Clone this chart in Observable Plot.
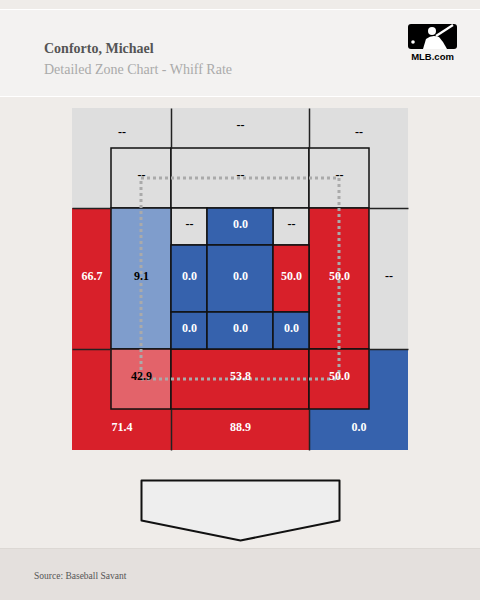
<!DOCTYPE html>
<html><head><meta charset="utf-8">
<script src="https://cdn.jsdelivr.net/npm/d3@7"></script>
<script src="https://cdn.jsdelivr.net/npm/@observablehq/plot@0.6"></script>
<style>
html,body{margin:0;padding:0;}
body{width:480px;height:600px;background:#efece9;position:relative;overflow:hidden;font-family:"Liberation Serif","Times New Roman",serif;}
#header{position:absolute;left:0;top:9px;width:480px;height:86px;background:#f3f2f1;border-top:1px solid #fff;border-bottom:1px solid #fff;}
#title{position:absolute;left:44px;top:41px;font-size:14px;line-height:16px;font-weight:bold;color:#555;white-space:nowrap;}
#subtitle{position:absolute;left:44px;top:62px;font-size:14px;line-height:16px;color:#aaa;white-space:nowrap;}
#logo{position:absolute;left:402px;top:20px;}
#chart{position:absolute;left:0;top:97px;}
#footer{position:absolute;left:0;top:548px;width:480px;height:51px;background:#e4e0dd;border-top:1px solid #dcd8d4;}
#source{position:absolute;left:34px;top:570px;font-size:9.5px;line-height:12px;color:#555;white-space:nowrap;}
</style>
</head>
<body>
<div id="header"></div>
<div id="title">Conforto, Michael</div>
<div id="subtitle">Detailed Zone Chart - Whiff Rate</div>
<svg id="logo" width="60" height="46">
  <rect x="6" y="4" width="49" height="25" rx="3" fill="#000"/>
  <circle cx="11" cy="22" r="1.8" fill="#fff"/>
  <circle cx="30" cy="11" r="4" fill="#fff"/>
  <path d="M21 29 L24 19 Q30 14 37 17 L41 22 L45 29 Z" fill="#fff"/>
  <line x1="34" y1="16" x2="51" y2="5" stroke="#fff" stroke-width="2.2"/>
  <text x="30.5" y="40" text-anchor="middle" font-family="Liberation Sans, Arial, sans-serif" font-weight="bold" font-size="9.5" fill="#000">MLB.com</text>
</svg>
<div id="chart"></div>
<div id="footer"></div>
<div id="source">Source: Baseball Savant</div>
<script>
// ---- values ----
const outerZones = ["Top left","Top","Top right","Left","Right","Bottom left","Bottom","Bottom right"];
const outerValues = [null, null, null, 66.7, null, 71.4, 88.9, 0.0];
const shadowZones = ["Top left","Top","Top right","Left","Right","Bottom left","Bottom","Bottom right"];
const shadowValues = [null, null, null, 9.1, 50.0, 42.9, 53.8, 50.0];
const heartRows = ["High","Middle","Low"];
const heartCols = ["Left","Center","Right"];
const heartValues = [
  [null, 0.0, null],
  [0.0, 0.0, 50.0],
  [0.0, 0.0, 0.0]
];
const colorThresholds = [5, 25, 45];
const colorRange = ["#3662ad", "#7f9dcc", "#e3636a", "#d8202a"];
const missingColor = "#dedede";

// ---- zone geometry (in chart units) ----
const xEdges = [-8.4, -6.45, -3.45, -1.65, 1.65, 3.45, 6.45, 8.4];
const yEdges = [0, 2.05, 5.05, 6.9, 10.25, 12.1, 15.1, 17.1];
const outerShapes = [
  [[0,2,6,7],[0,1,5,6]],
  [[2,5,6,7]],
  [[5,7,6,7],[6,7,5,6]],
  [[0,1,2,5]],
  [[6,7,2,5]],
  [[0,2,0,1],[0,1,1,2]],
  [[2,5,0,1]],
  [[5,7,0,1],[6,7,1,2]]
];
const outerLabelShift = [-0.35, 0, -0.35, 0, 0, 0, 0, 0];
const shadowShapes = [[1,2,5,6],[2,5,5,6],[5,6,5,6],[1,2,2,5],[5,6,2,5],[1,2,1,2],[2,5,1,2],[5,6,1,2]];
const heartColSpans = [[2,3],[3,4],[4,5]];
const heartRowSpans = [[4,5],[3,4],[2,3]];
const outerDividers = [[0,1,5,5],[6,7,5,5],[0,1,2,2],[6,7,2,2],[2,2,6,7],[5,5,6,7],[2,2,0,1],[5,5,0,1]];
const strikeZone = [{x1: -4.95, x2: 4.95, y1: 3.55, y2: 13.6}];
const plate = [[-4.95,-1.5],[4.95,-1.5],[4.95,-3.5],[0,-4.5],[-4.95,-3.5],[-4.95,-1.5]];

const box = s => ({x1: xEdges[s[0]], x2: xEdges[s[1]], y1: yEdges[s[2]], y2: yEdges[s[3]]});
const center = r => ({x: (r.x1 + r.x2) / 2, y: (r.y1 + r.y2) / 2});

const outerPieces = outerShapes.flatMap((shape, i) => shape.map(s => ({...box(s), v: outerValues[i], zone: outerZones[i]})));
const outerLabels = outerShapes.map((shape, i) => {
  const c = center(box(shape[0]));
  return {x: c.x, y: c.y + outerLabelShift[i], v: outerValues[i]};
});
const shadowCells = shadowShapes.map((s, i) => ({...box(s), v: shadowValues[i], zone: shadowZones[i]}));
const heartCells = heartRowSpans.flatMap((rs, r) => heartColSpans.map((cs, c) => ({
  x1: xEdges[cs[0]], x2: xEdges[cs[1]], y1: yEdges[rs[0]], y2: yEdges[rs[1]],
  v: heartValues[r][c], zone: heartRows[r] + " " + heartCols[c]
})));
const innerCells = [...shadowCells, ...heartCells];
const labels = [...outerLabels, ...innerCells.map(d => ({...center(d), v: d.v}))];
const dividers = outerDividers.map(s => box(s));

const has = d => d.v != null;
const isLight = d => d.v == null || (d.v >= colorThresholds[0] && d.v < colorThresholds[2]);

const chart = Plot.plot({
  width: 480,
  height: 451,
  margin: 0,
  style: {background: "transparent", overflow: "visible"},
  x: {domain: [-12, 12], axis: null},
  y: {domain: [-4.9, 17.65], axis: null},
  color: {type: "threshold", domain: colorThresholds, range: colorRange},
  marks: [
    Plot.rect(outerPieces.filter(d => !has(d)), {x1: "x1", x2: "x2", y1: "y1", y2: "y2", fill: missingColor}),
    Plot.rect(outerPieces.filter(has), {x1: "x1", x2: "x2", y1: "y1", y2: "y2", fill: "v"}),
    Plot.rect(innerCells.filter(d => !has(d)), {x1: "x1", x2: "x2", y1: "y1", y2: "y2", fill: missingColor, stroke: "#111", strokeWidth: 1.5}),
    Plot.rect(innerCells.filter(has), {x1: "x1", x2: "x2", y1: "y1", y2: "y2", fill: "v", stroke: "#111", strokeWidth: 1.5}),
    Plot.link(dividers, {x1: "x1", x2: "x2", y1: "y1", y2: "y2", stroke: "#222", strokeWidth: 1.5}),
    Plot.rect(strikeZone, {x1: "x1", x2: "x2", y1: "y1", y2: "y2", fill: "none", stroke: "#aaa", strokeWidth: 3, strokeDasharray: "3,3"}),
    Plot.text(labels, {
      x: "x", y: "y",
      text: d => d.v == null ? "--" : d.v.toFixed(1),
      fill: d => isLight(d) ? "#000" : "#fff",
      dy: -3,
      fontSize: 12, fontWeight: "bold", fontFamily: "Liberation Serif, Times New Roman, serif"
    }),
    Plot.line(plate, {x: d => d[0], y: d => d[1], fill: "#eeeeee", stroke: "#111", strokeWidth: 2})
  ]
});
document.getElementById("chart").appendChild(chart);
</script>
</body></html>
